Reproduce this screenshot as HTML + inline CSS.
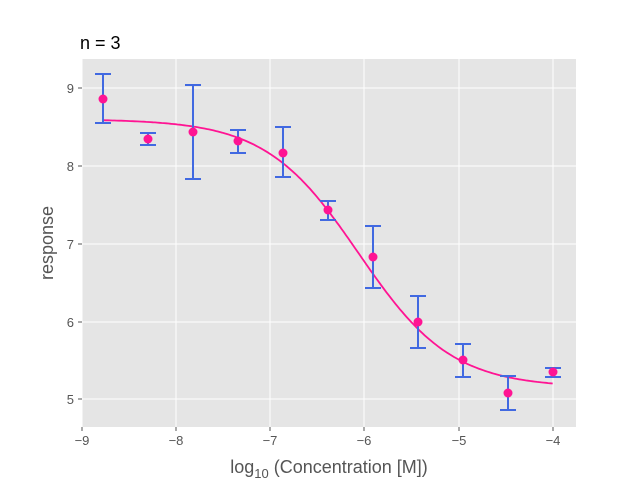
<!DOCTYPE html>
<html><head><meta charset="utf-8"><style>
body{margin:0;background:#fff;}
svg{display:block;font-family:"Liberation Sans","DejaVu Sans",sans-serif;}
</style></head><body>
<svg id="s" width="640" height="480" xmlns="http://www.w3.org/2000/svg">
<rect x="0" y="0" width="640" height="480" fill="#fff"/>
<rect x="82" y="59" width="494" height="368" fill="#e5e5e5"/>
<g stroke="#fff" stroke-width="1">
<line x1="82" y1="59" x2="82" y2="427"/><line x1="176" y1="59" x2="176" y2="427"/><line x1="270" y1="59" x2="270" y2="427"/><line x1="364" y1="59" x2="364" y2="427"/><line x1="459" y1="59" x2="459" y2="427"/><line x1="553" y1="59" x2="553" y2="427"/>
<line x1="82" y1="88" x2="576" y2="88"/><line x1="82" y1="166" x2="576" y2="166"/><line x1="82" y1="244" x2="576" y2="244"/><line x1="82" y1="322" x2="576" y2="322"/><line x1="82" y1="399" x2="576" y2="399"/>
</g>
<g stroke="#555" stroke-width="1">
<line x1="82" y1="427" x2="82" y2="431"/><line x1="176" y1="427" x2="176" y2="431"/><line x1="270" y1="427" x2="270" y2="431"/><line x1="364" y1="427" x2="364" y2="431"/><line x1="459" y1="427" x2="459" y2="431"/><line x1="553" y1="427" x2="553" y2="431"/>
<line x1="78" y1="88" x2="82" y2="88"/><line x1="78" y1="166" x2="82" y2="166"/><line x1="78" y1="244" x2="82" y2="244"/><line x1="78" y1="322" x2="82" y2="322"/><line x1="78" y1="399" x2="82" y2="399"/>
</g>
<g fill="#555" font-size="13" text-anchor="middle">
<text x="82" y="445">−9</text><text x="176" y="445">−8</text><text x="270" y="445">−7</text><text x="364" y="445">−6</text><text x="459" y="445">−5</text><text x="553" y="445">−4</text>
</g>
<g fill="#555" font-size="13" text-anchor="end">
<text x="74" y="93">9</text><text x="74" y="171">8</text><text x="74" y="249">7</text><text x="74" y="327">6</text><text x="74" y="404">5</text>
</g>
<text x="329" y="473" fill="#555" font-size="18" text-anchor="middle">log<tspan font-size="13" dy="5">10</tspan><tspan dy="-5"> (Concentration [M])</tspan></text>
<text transform="translate(53,243) rotate(-90)" fill="#555" font-size="18" text-anchor="middle">response</text>
<text x="80" y="49" fill="#000" font-size="18">n = 3</text>
<path id="curve" fill="none" stroke="#ff1493" stroke-width="1.8"/>
<g id="eb" stroke="#4169e1" stroke-width="2"></g>
<g id="pts" fill="#ff1493"></g>
</svg>
<script>
var X=function(v){return 81.7+(v+9)*94.2},Y=function(v){return 88+(9-v)*77.8};
var d="";for(var i=0;i<=200;i++){var x=-8.77+i*(4.77/200);var y=5.15+(8.60-5.15)/(1+Math.pow(10,(x+6.06)*0.88));d+=(i?"L":"M")+X(x).toFixed(1)+" "+Y(y).toFixed(1);}
document.getElementById("curve").setAttribute("d",d);
var data=[[103,99,74,123],[148,139,133,145],[193,132,85,179],[238,141,130,153],[283,153,127,177],[328,210,201,220],[373,257,226,288],[418,322,296,348],[463,360,344,377],[508,393,376,410],[553,372,368,377]];
var eb="",pt="";data.forEach(function(p){eb+='<line x1="'+p[0]+'" y1="'+p[2]+'" x2="'+p[0]+'" y2="'+p[3]+'"/><line x1="'+(p[0]-8)+'" y1="'+p[2]+'" x2="'+(p[0]+8)+'" y2="'+p[2]+'"/><line x1="'+(p[0]-8)+'" y1="'+p[3]+'" x2="'+(p[0]+8)+'" y2="'+p[3]+'"/>';pt+='<circle cx="'+p[0]+'" cy="'+p[1]+'" r="4.5"/>';});
document.getElementById("eb").innerHTML=eb;document.getElementById("pts").innerHTML=pt;
</script>
</body></html>
